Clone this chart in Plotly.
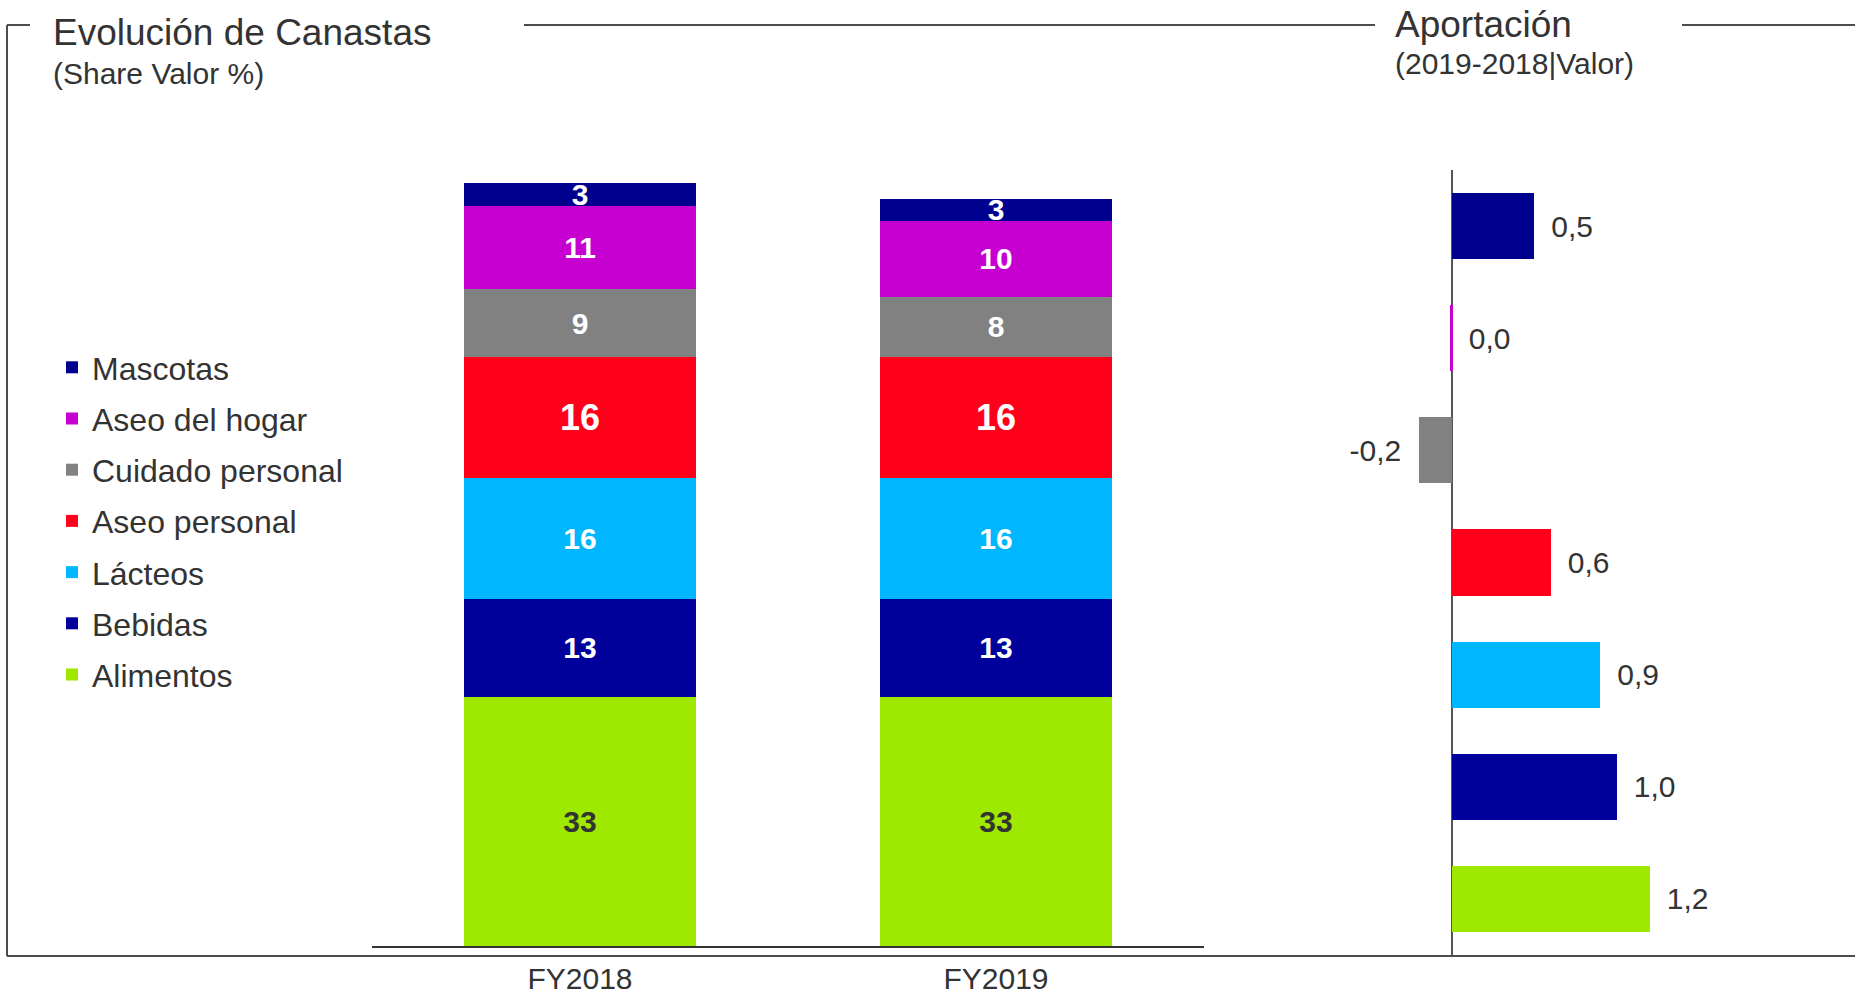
import plotly.graph_objects as go

# ---- data -------------------------------------------------------------
periodos = ["FY2018", "FY2019"]
categorias = ["Alimentos", "Bebidas", "Lácteos", "Aseo personal",
              "Cuidado personal", "Aseo del hogar", "Mascotas"]
share_fy2018 = [33, 13, 16, 16, 9, 11, 3]
share_fy2019 = [33, 13, 16, 16, 8, 10, 3]
aportacion = [1.2, 1.0, 0.9, 0.6, -0.2, 0.0, 0.5]

colores = ["#9FE800", "#00009A", "#00B6FF", "#FF001A",
           "#818181", "#C600D0", "#00008F"]
color_texto = ["#333333", "white", "white", "white", "white", "white", "white"]
tam_texto = [30, 30, 30, 36, 30, 30, 30]

W, H = 1855, 998
FONT = "Liberation Sans, Arial, sans-serif"
GRIS = "#333333"
LINEA = "#4d4d4d"


def px(x):
    return x / W


def py(y):
    return (H - y) / H


fig = go.Figure()

# ---- stacked share bars ------------------------------------------------
n = len(categorias)
for i, cat in enumerate(categorias):
    vals = [share_fy2018[i], share_fy2019[i]]
    fig.add_trace(go.Bar(
        x=periodos, y=vals, name=cat,
        marker=dict(color=colores[i], line=dict(width=0)),
        width=0.56,
        text=vals, texttemplate="%{text}",
        textposition="inside", insidetextanchor="middle",
        textangle=0, constraintext="none", cliponaxis=False,
        insidetextfont=dict(family=FONT, size=tam_texto[i],
                            color=color_texto[i], weight="bold"),
        legendgroup=cat, legendrank=n - i, showlegend=True,
        xaxis="x", yaxis="y",
        hoverinfo="skip",
    ))

# ---- contribution bars --------------------------------------------------
hueco = "\u00a0\u2009"
plantillas = [(hueco + "%{x:.1f}" if v >= 0 else "%{x:.1f}" + hueco)
              for v in aportacion]
fig.add_trace(go.Bar(
    y=categorias, x=aportacion, orientation="h",
    marker=dict(color=colores,
                line=dict(color=colores,
                          width=[3 if v == 0 else 0 for v in aportacion])),
    width=0.59,
    texttemplate=plantillas, textposition="outside",
    textangle=0, constraintext="none", cliponaxis=False,
    outsidetextfont=dict(family=FONT, size=30, color=GRIS),
    showlegend=False, xaxis="x2", yaxis="y2",
    hoverinfo="skip",
))

# ---- frame and headings -------------------------------------------------
marco = [
    (7, 25, 7, 956),
    (7, 25, 30, 25),
    (524, 25, 1375, 25),
    (1682, 25, 1855, 25),
    (7, 956, 1855, 956),
]
shapes = [dict(type="line", xref="paper", yref="paper",
               x0=px(a), y0=py(b), x1=px(c), y1=py(d),
               line=dict(color=LINEA, width=2)) for a, b, c, d in marco]

textos = [
    ("Evolución de Canastas", 51, 33, 37),
    ("(Share Valor %)", 51, 73, 30),
    ("Aportación", 1393, 24, 37),
    ("(2019-2018|Valor)", 1393, 64, 30),
]
annotations = [dict(text=t, xref="paper", yref="paper", x=px(x), y=py(y),
                    xanchor="left", yanchor="middle", showarrow=False,
                    font=dict(family=FONT, size=s, color=GRIS))
               for t, x, y, s in textos]

fig.update_layout(
    width=W, height=H,
    margin=dict(l=0, r=0, t=0, b=0, autoexpand=False),
    paper_bgcolor="white", plot_bgcolor="white",
    barmode="stack",
    separators=",.",
    font=dict(family=FONT, color=GRIS),
    shapes=shapes, annotations=annotations,
    xaxis=dict(domain=[px(372), px(1204)], range=[-0.5, 1.5],
               automargin=False,
               showline=True, linecolor=GRIS, linewidth=2,
               showgrid=False, zeroline=False,
               ticks="outside", ticklen=5, tickcolor="rgba(0,0,0,0)",
               tickfont=dict(family=FONT, size=30, color=GRIS)),
    yaxis=dict(domain=[py(946), py(946 - 102 * 7.55)], range=[0, 102],
               automargin=False, visible=False),
    xaxis2=dict(domain=[px(1385.5), px(1715.5)], range=[-0.4, 1.6],
                anchor="y2", automargin=False, showticklabels=False,
                showgrid=False, showline=False, ticks="",
                zeroline=True, zerolinecolor="#555555", zerolinewidth=2),
    yaxis2=dict(domain=[py(955), py(170)], range=[-0.5, 6.5],
                anchor="x2", automargin=False, showticklabels=False,
                showgrid=False, showline=False, zeroline=False, ticks=""),
    legend=dict(x=px(52), y=py(340), xanchor="left", yanchor="top",
                traceorder="grouped", tracegroupgap=6.6,
                font=dict(family=FONT, size=32, color=GRIS),
                bgcolor="rgba(0,0,0,0)"),
    showlegend=True,
)

fig.write_html("out.html")
